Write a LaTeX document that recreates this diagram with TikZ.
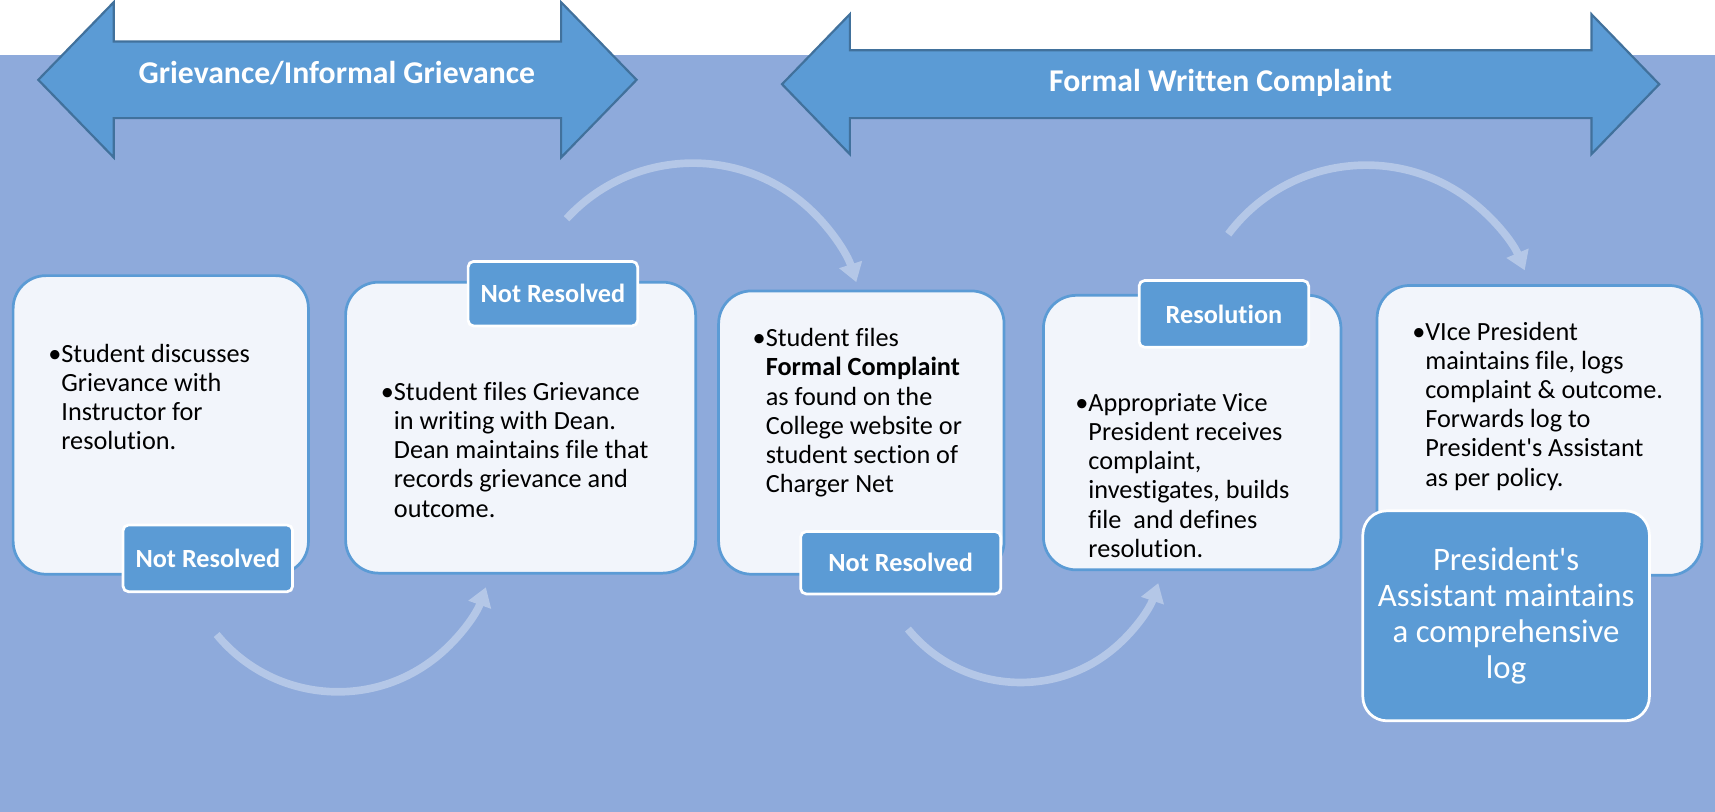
\documentclass[tikz,border=0pt]{standalone}
\usepackage{fontspec}
\setmainfont{Carlito}[Ligatures={TeX,NoCommon}]
\usetikzlibrary{arrows.meta}
\definecolor{bg}{HTML}{8EAADB}
\definecolor{accent}{HTML}{5B9BD5}
\definecolor{accentdark}{HTML}{41719C}
\definecolor{boxfill}{HTML}{F2F5FB}
\definecolor{curve}{HTML}{B4C7E7}
\begin{document}
\begin{tikzpicture}[x=1pt,y=-1pt,
  stepbox/.style={draw=accent, line width=2.5pt, fill=boxfill, rounded corners=30pt, inner sep=0pt},
  tabbox/.style={draw=white, line width=2.5pt, fill=accent, rounded corners=5pt, inner sep=0pt, text=white, font=\fontsize{24}{27}\selectfont\bfseries},
  body/.style={anchor=base west, align=left, inner sep=0pt, font=\fontsize{24}{26.7}\selectfont},
  bigarrow/.style={fill=accent, draw=accentdark, line width=2pt, line join=miter},
  headtext/.style={text=white, inner sep=0pt, font=\fontsize{29}{32}\selectfont\bfseries, anchor=base},
  curvearrow/.style={draw=curve, line width=7pt, -{Triangle[length=17pt,width=21pt]}},
  presbox/.style={draw=white, line width=2.5pt, fill=accent, rounded corners=22pt, inner sep=0pt, text=white, align=center, font=\fontsize{30}{32.7}\selectfont},
]
\useasboundingbox (0,0) rectangle (1568,742);
% background
\fill[white] (0,0) rectangle (1568,50);
\fill[bg] (0,50) rectangle (1568,742);

% header arrows
\draw[bigarrow] (35,73) -- (104,2) -- (104,38) -- (513,38) -- (513,2) -- (582,73)
  -- (513,144) -- (513,108) -- (104,108) -- (104,144) -- cycle;
\node[headtext] (h1) at (308,76) {Grievance/Informal Grievance};
\draw[bigarrow] (715,77) -- (777,13) -- (777,46) -- (1455,46) -- (1455,13) -- (1517,77)
  -- (1455,141) -- (1455,108) -- (777,108) -- (777,141) -- cycle;
\node[headtext] (h2) at (1116,84) {Formal Written Complaint};

% curved arrows
\coordinate (a1s) at (198.1,580.1);
\draw[curvearrow] (a1s) arc[start angle=140.6, end angle=19.5, radius=143.5];
\coordinate (a2s) at (518,200);
\draw[curvearrow] (a2s) arc[start angle=222.5, end angle=342.2, radius=156.8];
\coordinate (a3s) at (830.1,575.1);
\draw[curvearrow] (a3s) arc[start angle=140.8, end angle=18.4, radius=132.8];
\coordinate (a4s) at (1123,214.1);
\draw[curvearrow] (a4s) arc[start angle=216.8, end angle=337.1, radius=157.4];

% step boxes
\node[stepbox, minimum width=270pt, minimum height=273pt] (b1) at (147,388.5) {};
\node[stepbox, minimum width=320pt, minimum height=266pt] (b2) at (476,391) {};
\node[stepbox, minimum width=261pt, minimum height=259pt] (b3) at (787.5,395.5) {};
\node[stepbox, minimum width=272pt, minimum height=251pt] (b4) at (1090,395.5) {};
\node[stepbox, minimum width=297pt, minimum height=265pt] (b5) at (1407.5,393.5) {};

% texts (anchored at the baseline of the last line)
\node[body] (t1) at (44,411.1) {•Student discusses\\\hphantom{•}Grievance with\\\hphantom{•}Instructor for\\\hphantom{•}resolution.};
\node[body] (t2) at (348,472.8) {•Student files Grievance\\\hphantom{•}in writing with Dean.\\\hphantom{•}Dean maintains file that\\\hphantom{•}records grievance and\\\hphantom{•}outcome.};
\node[body] (t3) at (688,450.5) {•Student files\\\hphantom{•}\textbf{Formal Complaint}\\\hphantom{•}as found on the\\\hphantom{•}College website or\\\hphantom{•}student section of\\\hphantom{•}Charger Net};
\node[body] (t4) at (983,509.5) {•Appropriate Vice\\\hphantom{•}President receives\\\hphantom{•}complaint,\\\hphantom{•}investigates, builds\\\hphantom{•}file~~and defines\\\hphantom{•}resolution.};
\node[body] (t5) at (1291,444.5) {•VIce President\\\hphantom{•}maintains file, logs\\\hphantom{•}complaint \& outcome.\\\hphantom{•}Forwards log to\\\hphantom{•}President\textquotesingle s Assistant\\\hphantom{•}as per policy.};

% tabs
\node[tabbox, minimum width=155pt, minimum height=61pt] (n1) at (190,510.5) {Not Resolved};
\node[tabbox, minimum width=155pt, minimum height=59pt] (n2) at (505.5,268.5) {Not Resolved};
\node[tabbox, minimum width=183pt, minimum height=57pt] (n3) at (823.5,514.5) {Not Resolved};
\node[tabbox, minimum width=155pt, minimum height=61pt] (r1) at (1119,287) {Resolution};

% president's assistant box
\node[presbox, minimum width=262pt, minimum height=192pt] (pa) at (1377,563)
  {President\textquotesingle s\\Assistant maintains\\a comprehensive\\log};
\end{tikzpicture}
\end{document}
